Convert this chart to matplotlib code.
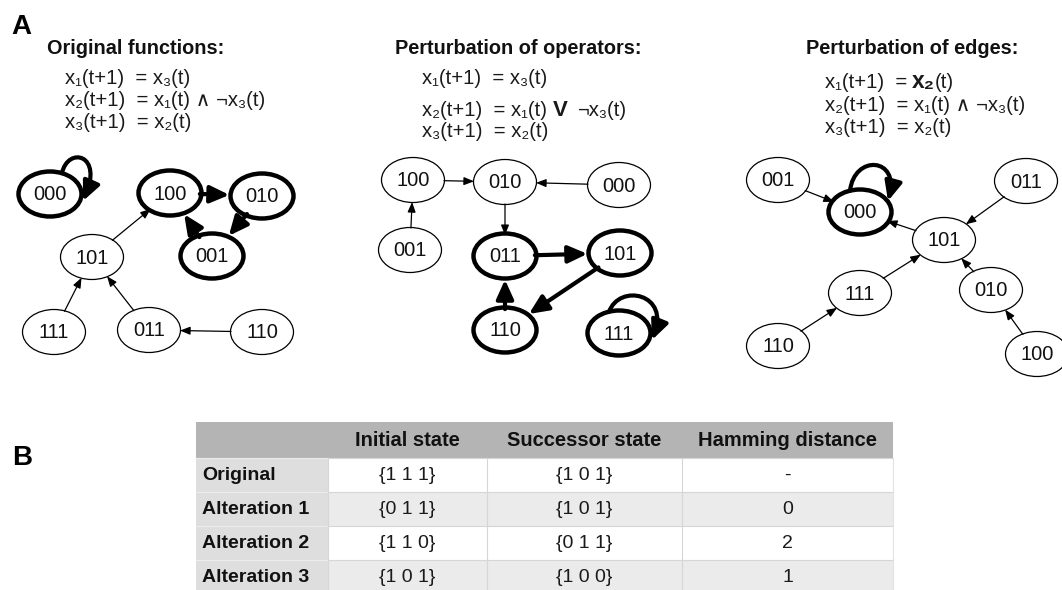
import matplotlib
matplotlib.use("Agg")
import matplotlib.pyplot as plt
from matplotlib.patches import Ellipse, FancyArrowPatch, Rectangle, ArrowStyle
from matplotlib.path import Path
import numpy as np

FAM = ['Liberation Sans', 'DejaVu Sans']

# ---------------- data ----------------
panel_titles = ["Original functions:", "Perturbation of operators:", "Perturbation of edges:"]

orig_edges = [("000", "000"), ("100", "010"), ("010", "001"), ("001", "100"),
              ("101", "100"), ("111", "101"), ("011", "101"), ("110", "011")]
orig_attractor = ["000", "100", "010", "001"]

oper_edges = [("100", "010"), ("000", "010"), ("001", "100"), ("010", "011"),
              ("011", "101"), ("101", "110"), ("110", "011"), ("111", "111")]
oper_attractor = ["011", "101", "110", "111"]

edge_edges = [("001", "000"), ("101", "000"), ("011", "101"), ("111", "101"),
              ("010", "101"), ("110", "111"), ("100", "010"), ("000", "000")]
edge_attractor = ["000"]

eq_orig = ["x₁(t+1)  = x₃(t)", "x₂(t+1)  = x₁(t) ∧ ¬x₃(t)", "x₃(t+1)  = x₂(t)"]

table_header = ["", "Initial state", "Successor state", "Hamming distance"]
row_labels = ["Original", "Alteration 1", "Alteration 2", "Alteration 3"]
initial_states = ["{1 1 1}", "{0 1 1}", "{1 1 0}", "{1 0 1}"]
successor_states = ["{1 0 1}", "{1 0 1}", "{0 1 1}", "{1 0 0}"]
hamming = ["-", "0", "2", "1"]

# ---------------- layout ----------------
layout = [
    {"000": (50, 194), "100": (170, 193), "010": (262, 196), "001": (212, 256),
     "101": (92, 257), "111": (54, 332), "011": (149, 330), "110": (262, 332)},
    {"100": (413, 180), "010": (505, 182), "000": (619, 185), "001": (410, 250),
     "011": (505, 256), "101": (620, 253), "110": (505, 330), "111": (619, 333)},
    {"001": (778, 180), "000": (860, 212), "011": (1026, 181), "101": (944, 240),
     "111": (860, 293), "010": (991, 290), "110": (778, 346), "100": (1037, 354)},
]
# cubic Bezier control offsets (relative to node centre) for self-loops
loop_ctrl = [
    [(12, -21), (18, -48), (54, -40), (33, 7)],
    [(-10, -21), (0, -50), (52, -40), (33, 7)],
    [(-10, -21), (-6, -58), (40, -55), (28, -11)],
]
NW, NH = 63, 45

fig = plt.figure(figsize=(10.62, 5.90), dpi=100)
ax = fig.add_axes([0, 0, 1, 1])
ax.set_xlim(0, 1062)
ax.set_ylim(590, 0)
ax.axis('off')
renderer = fig.canvas.get_renderer()

thick_style = ArrowStyle("-|>", head_length=11.5, head_width=5.2)
thin_style = ArrowStyle("-|>", head_length=6, head_width=2.4)


def draw_graph(pos, edges, attractor, loop):
    ells = {}
    for name, (cx, cy) in pos.items():
        bold = name in attractor
        e = Ellipse((cx, cy), NW, NH, facecolor='white', edgecolor='black',
                    lw=3.2 if bold else 0.9, zorder=2)
        ax.add_patch(e)
        ells[name] = e
        ax.text(cx, cy + 1, name, ha='center', va='center', fontsize=14.5,
                family=FAM, zorder=4, color='#111111')
    for a, b in edges:
        bold = a in attractor and b in attractor
        style = thick_style if bold else thin_style
        lw = 3.0 if bold else 0.9
        if a == b:
            cx, cy = pos[a]
            verts = [(cx + dx, cy + dy) for dx, dy in loop]
            p = Path(verts, [Path.MOVETO, Path.CURVE4, Path.CURVE4, Path.CURVE4])
            arr = FancyArrowPatch(path=p, arrowstyle=style, mutation_scale=1,
                                  lw=lw, color='black', zorder=3)
        else:
            arr = FancyArrowPatch(pos[a], pos[b], patchA=ells[a], patchB=ells[b],
                                  arrowstyle=style, mutation_scale=1, lw=lw,
                                  color='black', shrinkA=0,
                                  shrinkB=2 if bold else 0, zorder=3)
        ax.add_patch(arr)


def put_pieces(x, y, pieces):
    for txt, weight, size, gap in pieces:
        t = ax.text(x, y, txt, fontsize=size, fontweight=weight, family=FAM,
                    va='baseline', ha='left', color='#1a1a1a')
        bb = t.get_window_extent(renderer)
        x = x + bb.width + gap


# Panel labels
ax.text(21, 27, "A", fontsize=20, fontweight='bold', family=FAM, ha='center', va='center')
ax.text(22, 458, "B", fontsize=20, fontweight='bold', family=FAM, ha='center', va='center')

# Titles
title_x = [47, 395, 806]
for tx_, title in zip(title_x, panel_titles):
    ax.text(tx_, 48, title, fontsize=14.3, fontweight='bold', family=FAM,
            ha='left', va='center', color='#111111')

EQF = 14.6
# Equations panel 1
for yy, s in zip([78, 100, 122], eq_orig):
    put_pieces(65, yy + 6, [(s, 'normal', EQF, 0)])

# Equations panel 2
eq_x2 = 422
put_pieces(eq_x2, 78 + 6, [(eq_orig[0], 'normal', EQF, 0)])
left, right = eq_orig[1].split(" ∧ ")
put_pieces(eq_x2, 110 + 6, [(left, 'normal', EQF, 6), ("V", 'bold', 16, 9),
                            (right, 'normal', EQF, 0)])
put_pieces(eq_x2, 131 + 6, [(eq_orig[2], 'normal', EQF, 0)])

# Equations panel 3
eq_x3 = 825
head = eq_orig[0].split(" x₃")[0]
put_pieces(eq_x3, 82 + 6, [(head, 'normal', EQF, 5), ("x₂", 'bold', 16.5, 0),
                           ("(t)", 'normal', EQF, 0)])
put_pieces(eq_x3, 105 + 6, [(eq_orig[1], 'normal', EQF, 0)])
put_pieces(eq_x3, 127 + 6, [(eq_orig[2], 'normal', EQF, 0)])

# Graphs
draw_graph(layout[0], orig_edges, orig_attractor, loop_ctrl[0])
draw_graph(layout[1], oper_edges, oper_attractor, loop_ctrl[1])
draw_graph(layout[2], edge_edges, edge_attractor, loop_ctrl[2])

# ---------------- table ----------------
col_x = [196, 328, 487, 682, 893]
row_y = [422, 458, 492, 526, 560, 594]
ax.add_patch(Rectangle((col_x[0], row_y[0]), col_x[-1] - col_x[0], row_y[1] - row_y[0],
                       facecolor='#b4b4b4', edgecolor='none', zorder=1))
columns = [row_labels, initial_states, successor_states, hamming]
for r in range(len(row_labels)):
    y0, y1 = row_y[r + 1], row_y[r + 2]
    stripe = '#ffffff' if r % 2 == 0 else '#ebebeb'
    ax.add_patch(Rectangle((col_x[0], y0), col_x[1] - col_x[0], y1 - y0,
                           facecolor='#dedede', edgecolor='none', zorder=1))
    ax.add_patch(Rectangle((col_x[1], y0), col_x[-1] - col_x[1], y1 - y0,
                           facecolor=stripe, edgecolor='none', zorder=1))
    for c, vals in enumerate(columns):
        if c == 0:
            ax.text(col_x[0] + 6, (y0 + y1) / 2, vals[r], fontsize=14, fontweight='bold',
                    family=FAM, ha='left', va='center', color='#111111', zorder=2)
        else:
            ax.text((col_x[c] + col_x[c + 1]) / 2, (y0 + y1) / 2, vals[r], fontsize=14,
                    family=FAM, ha='center', va='center', color='#1a1a1a', zorder=2)
    ax.plot([col_x[1], col_x[-1]], [y0, y0], color='#d6d6d6', lw=0.8, zorder=1.5)
    ax.plot([col_x[0], col_x[1]], [y0, y0], color='#ececec', lw=0.8, zorder=1.5)
for c in range(1, 4):
    ax.plot([col_x[c], col_x[c]], [row_y[1], row_y[-1]], color='#d6d6d6', lw=0.8, zorder=1.5)
ax.plot([col_x[-1], col_x[-1]], [row_y[1], row_y[-1]], color='#e2e2e2', lw=0.8, zorder=1.5)
for c in range(1, 4):
    ax.text((col_x[c] + col_x[c + 1]) / 2, (row_y[0] + row_y[1]) / 2, table_header[c],
            fontsize=14.5, fontweight='bold', family=FAM, ha='center', va='center',
            color='#111111', zorder=2)

fig.savefig("out.png", dpi=100)
